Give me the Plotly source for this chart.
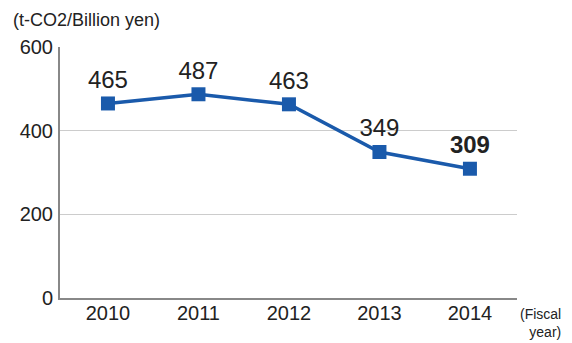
import plotly.graph_objects as go

years = ["2010", "2011", "2012", "2013", "2014"]
values = [465, 487, 463, 349, 309]
labels = ["465", "487", "463", "349", "<b>309</b>"]
y_ticks = [0, 200, 400, 600]

color = "#1a5aab"
font_family = "Liberation Sans, Arial, sans-serif"

fig = go.Figure()
fig.add_trace(go.Scatter(
    x=years, y=values, mode="lines+markers+text",
    line=dict(color=color, width=3.5),
    marker=dict(symbol="square", size=14, color=color),
    text=labels, textposition="top center",
    textfont=dict(size=24, color="#222", family=font_family),
    cliponaxis=False, hoverinfo="skip",
))

# The page body has an 8px margin, so the figure is sized to fit the window.
fig.update_layout(
    width=564, height=335,
    margin=dict(l=49, r=55, t=39, b=45),
    paper_bgcolor="white", plot_bgcolor="white",
    showlegend=False,
    font=dict(family=font_family, color="#222"),
    xaxis=dict(
        type="category", range=[-0.53, 4.52],
        showgrid=False, showline=True, linecolor="#888", linewidth=2,
        ticks="", tickfont=dict(size=20, color="#222"),
        ticklabelstandoff=-4,
    ),
    yaxis=dict(
        range=[0, 600], tickvals=y_ticks,
        showgrid=True, gridcolor="#cccccc", gridwidth=1,
        showline=True, linecolor="#888", linewidth=2,
        zeroline=False, ticks="", tickfont=dict(size=20, color="#222"),
        ticklabelstandoff=1,
    ),
    annotations=[
        dict(text="(t-CO2/Billion yen)", xref="paper", yref="paper",
             x=0, y=1.0, xanchor="left", yanchor="bottom", xshift=-49, yshift=15,
             showarrow=False, font=dict(size=18, color="#222")),
        dict(text="(Fiscal<br>year)", xref="paper", yref="paper",
             x=1.0, y=0, xanchor="left", yanchor="top", xshift=1, yshift=-6,
             align="right", showarrow=False, font=dict(size=14, color="#222")),
    ],
)

fig.write_html("out.html")
